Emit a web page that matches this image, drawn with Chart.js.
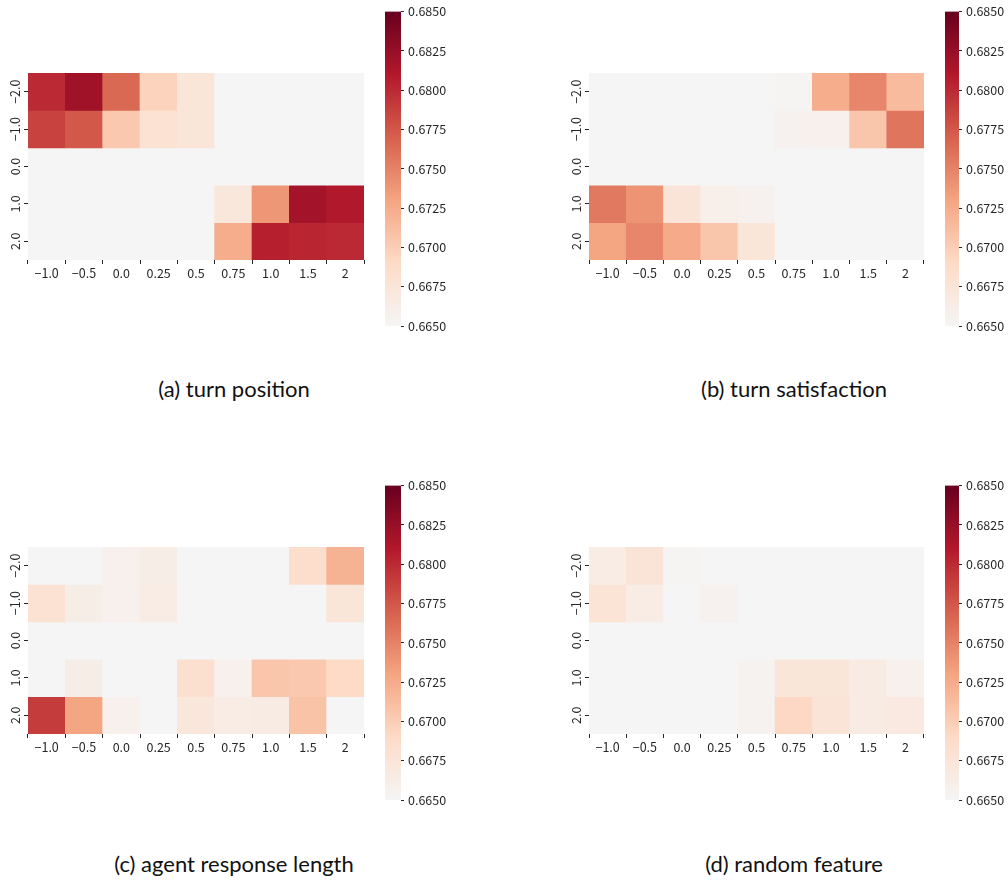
<!DOCTYPE html>
<html>
<head>
<meta charset="utf-8">
<script src="https://cdn.jsdelivr.net/npm/chart.js@4.4.1/dist/chart.umd.min.js"></script>
<style>
    body { margin: 0; background: #fff; width: 1008px; height: 881px; position: relative; overflow: hidden; }
    canvas { position: absolute; }
    .cap { position: absolute; width: 400px; text-align: center; font-family: Lato, "Open Sans", sans-serif; font-size: 22px; color: #111; }
</style>
</head>
<body>
<canvas id="hmA" style="left:0px;top:60px;width:380px;height:240px"></canvas>
<canvas id="cbA" style="left:380px;top:0px;width:70px;height:340px"></canvas>
<canvas id="hmB" style="left:560px;top:60px;width:380px;height:240px"></canvas>
<canvas id="cbB" style="left:940px;top:0px;width:68px;height:340px"></canvas>
<canvas id="hmC" style="left:0px;top:534px;width:380px;height:240px"></canvas>
<canvas id="cbC" style="left:380px;top:474px;width:70px;height:340px"></canvas>
<canvas id="hmD" style="left:560px;top:534px;width:380px;height:240px"></canvas>
<canvas id="cbD" style="left:940px;top:474px;width:68px;height:340px"></canvas>
<div class="cap" style="left:34px;top:375px">(a) turn position</div>
<div class="cap" style="left:594px;top:375px">(b) turn satisfaction</div>
<div class="cap" style="left:34px;top:850px">(c) agent response length</div>
<div class="cap" style="left:594px;top:850px">(d) random feature</div>
<script>
// axis labels
const colLabels = ['\u22121.0', '\u22120.5', '0.0', '0.25', '0.5', '0.75', '1.0', '1.5', '2'];
const rowLabels = ['\u22122.0', '\u22121.0', '0.0', '1.0', '2.0'];

// colour scale range
const vMin = 0.665;
const vMax = 0.685;
const cbTicks = [0.6650, 0.6675, 0.6700, 0.6725, 0.6750, 0.6775, 0.6800, 0.6825, 0.6850];

// heatmap values, one row per rowLabels entry
const turnPosition = [
    [0.6800, 0.6820, 0.6765, 0.6696, 0.6674, 0.6640, 0.6640, 0.6640, 0.6640],
    [0.6786, 0.6774, 0.6704, 0.6680, 0.6674, 0.6640, 0.6640, 0.6640, 0.6640],
    [0.6640, 0.6640, 0.6640, 0.6640, 0.6640, 0.6640, 0.6640, 0.6640, 0.6640],
    [0.6640, 0.6640, 0.6640, 0.6640, 0.6640, 0.6672, 0.6738, 0.6818, 0.6810],
    [0.6640, 0.6640, 0.6640, 0.6640, 0.6640, 0.6724, 0.6806, 0.6802, 0.6800]
];
const turnSatisfaction = [
    [0.6640, 0.6640, 0.6640, 0.6640, 0.6640, 0.6652, 0.6724, 0.6748, 0.6714],
    [0.6640, 0.6640, 0.6640, 0.6640, 0.6640, 0.6656, 0.6658, 0.6706, 0.6758],
    [0.6640, 0.6640, 0.6640, 0.6640, 0.6640, 0.6640, 0.6640, 0.6640, 0.6640],
    [0.6756, 0.6740, 0.6676, 0.6660, 0.6656, 0.6640, 0.6640, 0.6640, 0.6640],
    [0.6730, 0.6748, 0.6726, 0.6706, 0.6674, 0.6640, 0.6640, 0.6640, 0.6640]
];
const responseLength = [
    [0.6640, 0.6640, 0.6658, 0.6662, 0.6640, 0.6640, 0.6640, 0.6686, 0.6720],
    [0.6680, 0.6662, 0.6658, 0.6664, 0.6640, 0.6640, 0.6640, 0.6640, 0.6674],
    [0.6640, 0.6640, 0.6640, 0.6640, 0.6640, 0.6640, 0.6640, 0.6640, 0.6640],
    [0.6640, 0.6662, 0.6640, 0.6650, 0.6682, 0.6658, 0.6706, 0.6704, 0.6690],
    [0.6790, 0.6730, 0.6658, 0.6640, 0.6672, 0.6664, 0.6666, 0.6708, 0.6640]
];
const randomFeature = [
    [0.6664, 0.6676, 0.6652, 0.6640, 0.6640, 0.6640, 0.6640, 0.6640, 0.6640],
    [0.6678, 0.6664, 0.6640, 0.6656, 0.6640, 0.6640, 0.6640, 0.6640, 0.6640],
    [0.6640, 0.6640, 0.6640, 0.6640, 0.6640, 0.6640, 0.6640, 0.6640, 0.6640],
    [0.6640, 0.6640, 0.6640, 0.6640, 0.6654, 0.6674, 0.6674, 0.6666, 0.6658],
    [0.6640, 0.6640, 0.6640, 0.6640, 0.6654, 0.6692, 0.6676, 0.6666, 0.6668]
];

// upper half of RdBu_r
const cmapStops = [
    [0.0, [245, 245, 245]],
    [0.2, [253, 219, 199]],
    [0.4, [244, 165, 130]],
    [0.6, [214, 96, 77]],
    [0.8, [178, 24, 43]],
    [1.0, [103, 0, 31]]
];

function colorFor(v) {
    let t = (v - vMin) / (vMax - vMin);
    t = Math.max(0, Math.min(1, t));
    for (let i = 1; i < cmapStops.length; i++) {
        const [t1, c1] = cmapStops[i];
        const [t0, c0] = cmapStops[i - 1];
        if (t <= t1) {
            const f = (t - t0) / (t1 - t0);
            const c = c0.map((x, k) => Math.round(x + (c1[k] - x) * f));
            return `rgb(${c[0]},${c[1]},${c[2]})`;
        }
    }
    return 'rgb(103,0,31)';
}

const tickFont = { family: '"Noto Sans CJK SC", "DejaVu Sans", sans-serif', size: 12.5 };
const tickColor = '#262626';

// y tick labels read bottom-to-top, like the rotated matplotlib labels
const rotatedYLabels = {
    id: 'rotatedYLabels',
    afterDraw(chart) {
        const s = chart.scales.y;
        const c = chart.ctx;
        c.save();
        c.font = `${tickFont.size}px ${tickFont.family}`;
        c.fillStyle = tickColor;
        c.textAlign = 'center';
        c.textBaseline = 'middle';
        rowLabels.forEach((lab, i) => {
            const y = s.getPixelForValue(i + 0.5);
            c.save();
            c.translate(s.right - 13, y);
            c.rotate(-Math.PI / 2);
            c.fillText(lab, 0, 0);
            c.restore();
        });
        c.restore();
    }
};

function heatmap(id, values, yAxisWidth) {
    const ctx = document.getElementById(id).getContext('2d');
    new Chart(ctx, {
        type: 'bar',
        data: {
            labels: colLabels,
            datasets: values.map((row, r) => ({
                data: row.map(() => [r, r + 1]),
                backgroundColor: row.map(colorFor),
                borderWidth: 0,
                grouped: false,
                barPercentage: 1,
                categoryPercentage: 1
            }))
        },
        options: {
            responsive: false,
            animation: false,
            layout: { padding: { top: 13, right: 16, bottom: 10, left: 0 } },
            plugins: { legend: { display: false }, tooltip: { enabled: false } },
            scales: {
                x: {
                    grid: { drawOnChartArea: false, drawTicks: true, tickLength: 4, tickColor: tickColor },
                    border: { display: false },
                    ticks: { font: tickFont, color: tickColor, padding: 2, maxRotation: 0, minRotation: 0 },
                    afterFit: s => { s.height = 30; }
                },
                y: {
                    min: 0,
                    max: rowLabels.length,
                    reverse: true,
                    grid: { drawOnChartArea: false, drawTicks: true, tickLength: 4, tickColor: tickColor },
                    border: { display: false },
                    afterBuildTicks: s => { s.ticks = rowLabels.map((_, i) => ({ value: i + 0.5 })); },
                    ticks: { display: false },
                    afterFit: s => { s.width = yAxisWidth; }
                }
            }
        },
        plugins: [rotatedYLabels]
    });
}

function colorbar(id) {
    const ctx = document.getElementById(id).getContext('2d');
    new Chart(ctx, {
        type: 'bar',
        data: {
            labels: [''],
            datasets: [{
                data: [[vMin, vMax]],
                borderWidth: 0,
                barPercentage: 1,
                categoryPercentage: 1,
                backgroundColor: (c) => {
                    const area = c.chart.chartArea;
                    if (!area) return null;
                    const g = c.chart.ctx.createLinearGradient(0, area.bottom, 0, area.top);
                    cmapStops.forEach(([t, col]) => g.addColorStop(t, `rgb(${col[0]},${col[1]},${col[2]})`));
                    return g;
                }
            }]
        },
        options: {
            responsive: false,
            animation: false,
            layout: { padding: { top: 10, right: 0, bottom: 14, left: 5 } },
            plugins: { legend: { display: false }, tooltip: { enabled: false } },
            scales: {
                x: { display: false },
                y: {
                    position: 'right',
                    min: vMin,
                    max: vMax,
                    grid: { drawOnChartArea: false, drawTicks: true, tickLength: 3, tickColor: tickColor },
                    border: { display: false },
                    afterBuildTicks: s => { s.ticks = cbTicks.map(v => ({ value: v })); },
                    ticks: { font: tickFont, color: tickColor, padding: 4, callback: v => v.toFixed(4) },
                    afterFit: s => { s.width = 49; }
                }
            }
        }
    });
}

heatmap('hmA', turnPosition, 28);
heatmap('hmB', turnSatisfaction, 29);
heatmap('hmC', responseLength, 28);
heatmap('hmD', randomFeature, 29);
['cbA', 'cbB', 'cbC', 'cbD'].forEach(colorbar);
</script>
</body>
</html>
